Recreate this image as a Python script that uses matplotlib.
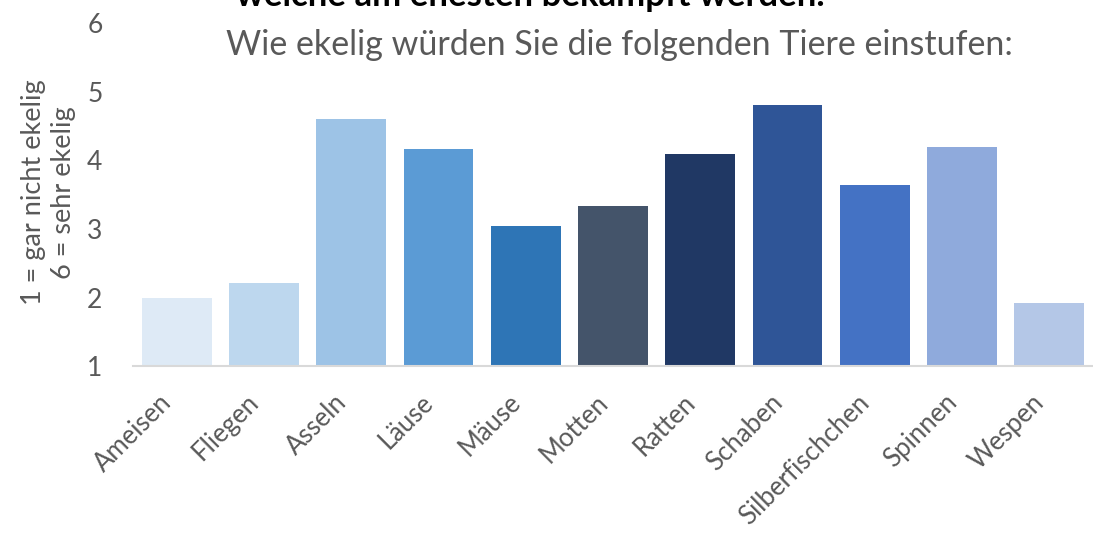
import matplotlib
matplotlib.use("Agg")
import matplotlib.pyplot as plt
import numpy as np

# Daten
tiere = ["Ameisen", "Fliegen", "Asseln", "Läuse", "Mäuse", "Motten",
         "Ratten", "Schaben", "Silberfischchen", "Spinnen", "Wespen"]
werte = [1.99, 2.21, 4.61, 4.17, 3.04, 3.34, 4.09, 4.81, 3.64, 4.20, 1.92]
farben = ["#deeaf6", "#bdd7ee", "#9dc3e6", "#5b9bd5", "#2e75b6", "#44546a",
          "#203864", "#2f5597", "#4472c4", "#8faadc", "#b4c7e7"]
y_ticks = [1, 2, 3, 4, 5, 6]

titel = "Wie ekelig würden Sie die folgenden Tiere einstufen:"
obertitel = "welche am ehesten bekämpft werden."
y_label = "1 = gar nicht ekelig\n6 = sehr ekelig"

plt.rcParams["font.family"] = ["Lato", "DejaVu Sans"]
grau = "#595959"

fig = plt.figure(figsize=(10.93, 5.34), dpi=100)
ax = fig.add_axes([0.1217, 0.3146, 0.8783, 0.6414])

x = np.arange(len(tiere))
ax.bar(x, np.array(werte) - 1, bottom=1, width=0.8, color=farben)

ax.set_xlim(-0.5, len(tiere) - 0.5)
ax.set_ylim(1, 6)
ax.set_yticks(y_ticks)
ax.set_yticklabels([str(t) for t in y_ticks], fontsize=19, color=grau)
ax.set_xticks(x)
ax.set_xticklabels(tiere, rotation=45, ha="right", rotation_mode="default",
                   fontsize=18.5, color=grau)
ax.tick_params(axis="y", length=0, pad=22)
ax.tick_params(axis="x", length=0, pad=17)

for s in ["top", "right", "left"]:
    ax.spines[s].set_visible(False)
ax.spines["bottom"].set_color("#d9d9d9")
ax.spines["bottom"].set_linewidth(1.5)

# Titel
fig.text(0.567, 0.915, titel, ha="center", va="center", fontsize=24.5,
         color=grau)
fig.text(0.485, 1.008, obertitel, ha="center", va="center", fontsize=25,
         color="black", fontweight="bold")

# Achsenbeschriftung
fig.text(0.044, 0.64, y_label, ha="center", va="center", rotation=90,
         fontsize=19.5, color=grau, linespacing=1.25)

fig.savefig("out.png", dpi=100)
